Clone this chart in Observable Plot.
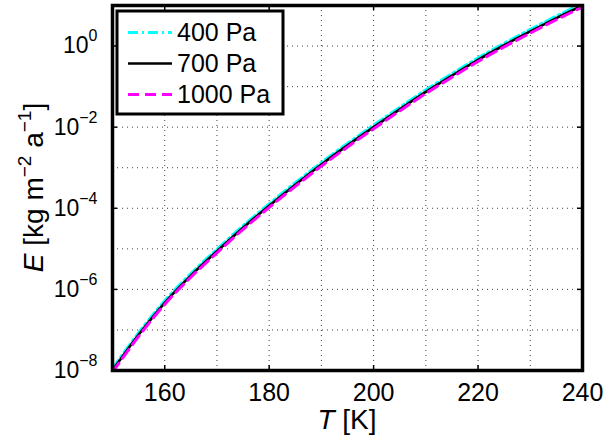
<!DOCTYPE html>
<html><head><meta charset="utf-8">
<script src="https://cdn.jsdelivr.net/npm/d3@7"></script>
<script src="https://cdn.jsdelivr.net/npm/@observablehq/plot@0.6"></script>
<style>
body{margin:0;background:#fff}
svg{font-family:"Liberation Sans",Arial,Helvetica,sans-serif}
</style>
</head><body><div id="chart"></div>
<script>
// Temperature (K)
const temps = [150,155,160,165,170,175,180,185,190,195,200,205,210,215,220,225,230,235,240];
// log10 of sublimation rate E [kg m^-2 a^-1]
const logE400  = [-7.95,-7.07,-6.28,-5.61,-5.01,-4.43,-3.89,-3.37,-2.87,-2.40,-1.95,-1.51,-1.08,-0.68,-0.29,0.07,0.41,0.74,1.05];
const logE700  = [-8.00,-7.12,-6.33,-5.66,-5.06,-4.48,-3.94,-3.42,-2.92,-2.45,-2.00,-1.56,-1.13,-0.73,-0.34,0.02,0.36,0.69,1.00];
const logE1000 = [-8.04,-7.16,-6.37,-5.70,-5.10,-4.52,-3.98,-3.46,-2.96,-2.49,-2.04,-1.60,-1.17,-0.77,-0.38,-0.02,0.32,0.65,0.96];
const seriesNames = ["400 Pa","700 Pa","1000 Pa"];
const seriesColors = ["#00ffff","#000000","#ff00ff"];
const seriesDash = ["10,4,2,4",null,"11,6"];
const xTicks = [160,180,200,220,240];
const xGrid = [150,160,170,180,190,200,210,220,230,240];
const yTickExps = [-8,-6,-4,-2,0];
const yGridExps = [-8,-7,-6,-5,-4,-3,-2,-1,0,1];

const W=607,H=435,mL=112,mR=25,mT=5,mB=65;
const pW=W-mL-mR, pH=H-mT-mB;
const logs=[logE400,logE700,logE1000];
const series = seriesNames.map((name,k)=>temps.map((t,i)=>({T:t,E:Math.pow(10,logs[k][i]),s:name})));
const yTicks = yTickExps.map(e=>Math.pow(10,e));
const yGrid = yGridExps.map(e=>Math.pow(10,e));
const gridStyle = {stroke:"#000",strokeOpacity:0.75,strokeWidth:1,strokeDasharray:"1,4"};
const lineWidths = [3,2.6,3];

const chart = Plot.plot({
  width:W,height:H,marginLeft:mL,marginRight:mR,marginTop:mT,marginBottom:mB,
  style:{fontFamily:'"Liberation Sans",Arial,Helvetica,sans-serif',fontSize:"23px",color:"#000",background:"#fff",overflow:"visible"},
  x:{domain:[150,240]},
  y:{type:"log",domain:[1e-8,10]},
  marks:[
    Plot.ruleX(xGrid,{x:d=>d,...gridStyle}),
    Plot.ruleY(yGrid,{y:d=>d,...gridStyle}),
    ...series.map((data,k)=>Plot.line(data,{x:"T",y:"E",stroke:seriesColors[k],strokeWidth:lineWidths[k],strokeDasharray:seriesDash[k],curve:"monotone-x",clip:true})),
    Plot.ruleX(xTicks,{x:d=>d,insetTop:pH-5,stroke:"#000",strokeWidth:1.5}),
    Plot.ruleX(xTicks,{x:d=>d,insetBottom:pH-5,stroke:"#000",strokeWidth:1.5}),
    Plot.ruleY(yTicks,{y:d=>d,insetRight:pW-5,stroke:"#000",strokeWidth:1.5}),
    Plot.ruleY(yTicks,{y:d=>d,insetLeft:pW-5,stroke:"#000",strokeWidth:1.5}),
    Plot.frame({stroke:"#000",strokeWidth:3.5}),
    Plot.axisX(xTicks,{tickSize:0,tickPadding:13,label:null,fontSize:25}),
    Plot.axisY(yTicks,{tickSize:0,tickPadding:15,label:null,fontSize:23,tickFormat:d=>String(Math.round(Math.log10(d))).replace("-","\u2212")})
  ]
});
document.getElementById("chart").appendChild(chart);
const svg = d3.select(chart);

// superscript exponents on y tick labels
svg.selectAll('g[aria-label="y-axis tick label"] text').each(function(){
  const el=d3.select(this); const exp=el.text(); el.text("");
  el.append("tspan").text("10");
  el.append("tspan").attr("dy",-12).attr("font-size",16).text(exp);
});

// axis titles
svg.append("text").attr("x",mL+pW/2).attr("y",429).attr("text-anchor","middle").attr("font-size",28)
  .call(t=>{t.append("tspan").attr("font-style","italic").text("T");t.append("tspan").text(" [K]");});
svg.append("text").attr("transform",`translate(43,${mT+pH/2}) rotate(-90)`).attr("text-anchor","middle").attr("font-size",28)
  .call(t=>{
    t.append("tspan").attr("font-style","italic").text("E");
    t.append("tspan").text(" [kg m");
    t.append("tspan").attr("dy",-12).attr("font-size",19).text("\u22122");
    t.append("tspan").attr("dy",12).text(" a");
    t.append("tspan").attr("dy",-12).attr("font-size",19).text("\u22121");
    t.append("tspan").attr("dy",12).text("]");
  });

// legend box
const lg = svg.append("g");
lg.append("rect").attr("x",117).attr("y",11).attr("width",166).attr("height",103).attr("fill","#fff").attr("stroke","#000").attr("stroke-width",3);
seriesNames.forEach((name,k)=>{
  const cy = 32.5 + k*31;
  lg.append("line").attr("x1",128).attr("x2",172).attr("y1",cy).attr("y2",cy)
    .attr("stroke",seriesColors[k]).attr("stroke-width",lineWidths[k]).attr("stroke-dasharray",seriesDash[k]);
  lg.append("text").attr("x",177).attr("y",cy).attr("dy","0.35em").attr("text-anchor","start").attr("font-size",25).text(name);
});
</script></body></html>
